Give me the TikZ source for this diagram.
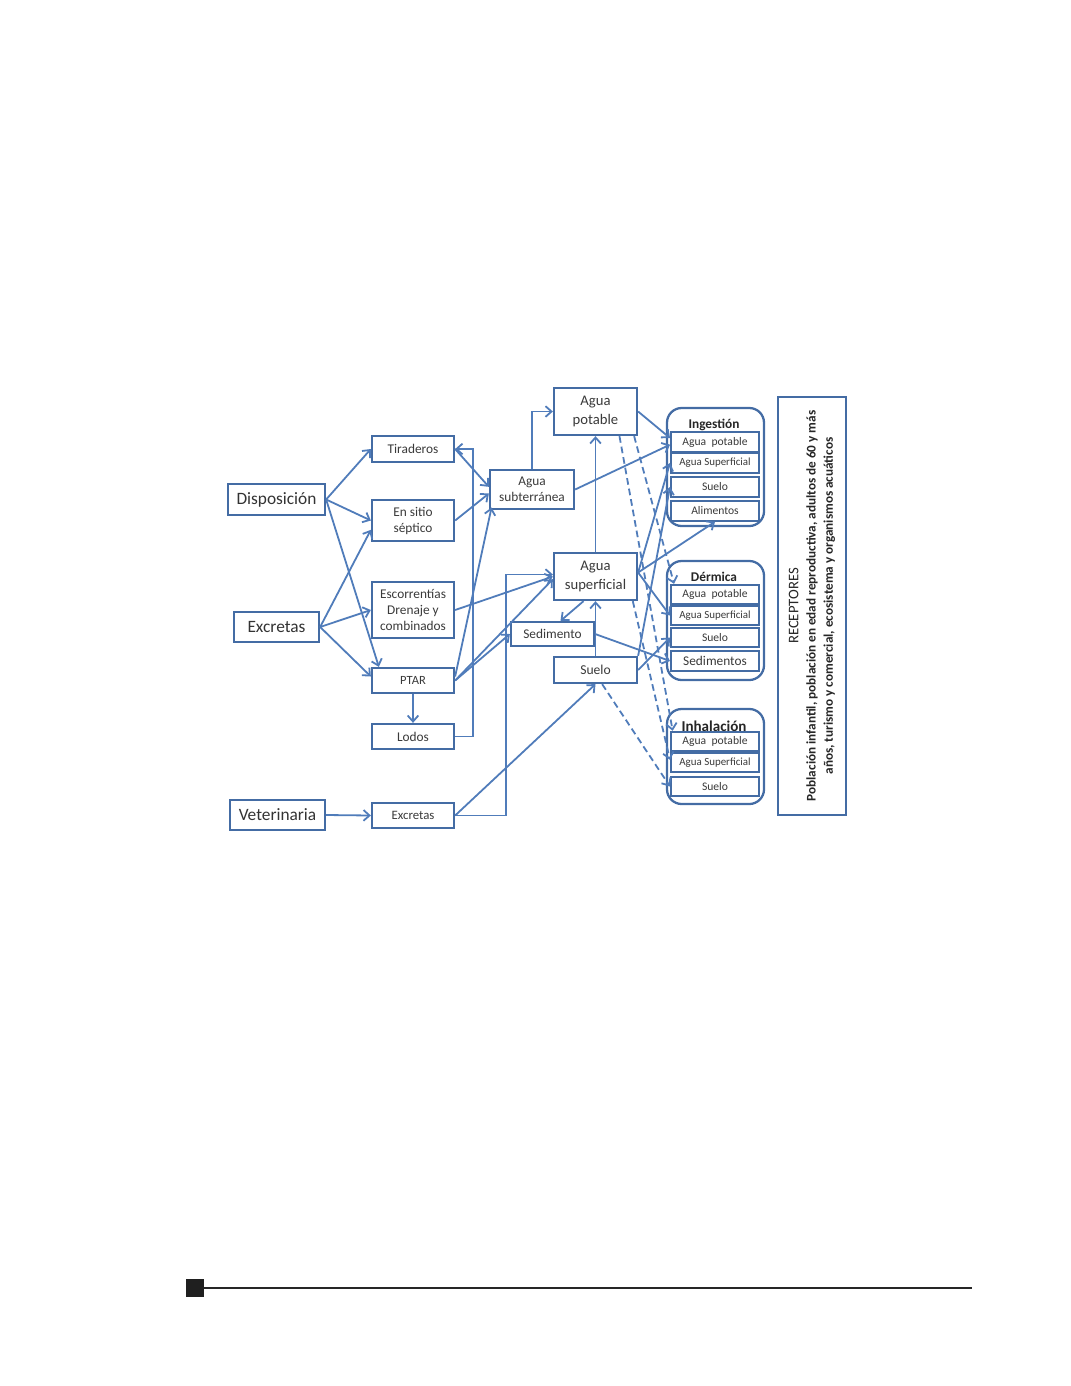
\documentclass[tikz,border=0pt]{standalone}
\usepackage{fontspec}
\setmainfont{Carlito}
\usetikzlibrary{arrows.meta}

\definecolor{boxblue}{RGB}{68,108,164}
\definecolor{lineblue}{RGB}{80,124,186}
\definecolor{txtgray}{RGB}{58,58,58}
\newcommand{\fsz}[2]{\fontsize{#1}{#2}\selectfont}

\begin{document}
\begin{tikzpicture}[x=0.75pt, y=-0.75pt,
  box/.style={draw=boxblue, line width=1.7pt, fill=white, text=txtgray, align=center, inner sep=0pt},
  bigbox/.style={box, text=black!80, font=\fsz{13}{15}},
  midbox/.style={box, minimum width=61.5pt, font=\fsz{10}{12}},
  wbox/.style={box, minimum width=62.25pt, font=\fsz{11}{14.25}},
  subbox/.style={box, line width=1.5pt, minimum width=66pt, minimum height=14.6pt, font=\fsz{8.7}{10}},
  group/.style={draw=boxblue, line width=1.7pt, rounded corners=11pt, minimum width=72.75pt},
  grouptitle/.style={text=black!85, font=\bfseries\fsz{10}{12}},
  link/.style={draw=lineblue, line width=1.35pt, -{Straight Barb[length=4.5pt, width=8pt]}},
  dlink/.style={link, dash pattern=on 5pt off 3pt}]

\useasboundingbox (0,0) rectangle (1071,1386);

% === SOURCES ===
\node[bigbox, minimum width=72.75pt, minimum height=23.25pt] (disp) at (276.5,499.5) {Disposición};
\node[bigbox, minimum width=63.75pt, minimum height=22.5pt] (exc) at (276.5,627) {Excretas};
\node[bigbox, minimum width=71.25pt, minimum height=22.5pt] (vet) at (277.5,815) {Veterinaria};

% === SECOND COLUMN ===
\node[midbox, minimum height=19.5pt] (tir) at (413,449) {Tiraderos};
\node[midbox, minimum height=30.75pt] (sep) at (413,520.5) {En sitio\\séptico};
\node[midbox, minimum height=42pt] (esc) at (413,610) {Escorrentías\\Drenaje y\\combinados};
\node[midbox, minimum height=18.75pt, font=\fsz{9.4}{11}] (ptar) at (413,680.5) {PTAR};
\node[midbox, minimum height=18.75pt] (lod) at (413,736.5) {Lodos};
\node[midbox, minimum height=18.75pt, font=\fsz{9.6}{11}] (exv) at (413,815.5) {Excretas};

% === MEDIA ===
\node[box, minimum width=63pt, minimum height=29.25pt, font=\fsz{10}{12}] (sub) at (532,489.5) {Agua\\subterránea};
\node[wbox, minimum height=35.25pt] (pot) at (595.5,411.5) {Agua\\potable};
\node[wbox, minimum height=35.25pt] (sup) at (595.5,576.5) {Agua\\superficial};
\node[wbox, minimum height=18pt, font=\fsz{10}{12}] (sed) at (552.5,634) {Sedimento};
\node[wbox, minimum height=19.5pt, font=\fsz{10.2}{12}] (sue) at (595.5,670) {Suelo};

% === EXPOSURE ROUTES ===
\node[group, minimum height=88.5pt] (ingG) at (715.5,467) {};
\node[grouptitle] (ingT) at (714,425) {Ingestión};
\node[subbox] (ing1) at (715,442) {Agua~ potable};
\node[subbox, font=\fsz{8.2}{10}] (ing2) at (715,463) {Agua Superficial};
\node[subbox] (ing3) at (715,487) {Suelo};
\node[subbox] (ing4) at (715,511) {Alimentos};

\node[group, minimum height=89.25pt] (derG) at (715.5,620.5) {};
\node[grouptitle] (derT) at (714,577) {Dérmica};
\node[subbox] (der1) at (715,594.5) {Agua~ potable};
\node[subbox, font=\fsz{8.2}{10}] (der2) at (715,615.5) {Agua Superficial};
\node[subbox] (der3) at (715,637.5) {Suelo};
\node[subbox, font=\fsz{10}{12}] (der4) at (715,661) {Sedimentos};

\node[group, minimum height=71.25pt] (inhG) at (715.5,756.5) {};
\node[grouptitle, font=\bfseries\fsz{11.3}{13}] (inhT) at (714,726) {Inhalación};
\node[subbox] (inh1) at (715,741.5) {Agua~ potable};
\node[subbox, font=\fsz{8.2}{10}] (inh2) at (715,762.5) {Agua Superficial};
\node[subbox] (inh3) at (715,786.5) {Suelo};

% === RECEIVERS ===
\node[box, rotate=90, line width=2pt, text=black!85, minimum width=313.5pt, minimum height=51pt,
      font=\bfseries\fsz{9.9}{13}] (rec) at (812,606)
  {{\mdseries\fsz{11}{13}RECEPTORES}\\Población infantil, población en edad reproductiva, adultos de 60 y más\\años, turismo y comercial, ecosistema y organismos acuáticos};

% === CONNECTORS ===
\draw[link] (disp.east) -- (tir.west);
\draw[link] (disp.east) -- (sep.west);
\draw[link] (disp.east) -- ([xshift=6pt]ptar.north west);
\draw[link] (exc.east) -- ([yshift=-7pt]sep.west);
\draw[link] (exc.east) -- (esc.west);
\draw[link] (exc.east) -- ([yshift=3pt]ptar.west);
\draw[link] (ptar.south) -- (lod.north);
\draw[link] (lod.east) -- ++(18,0) |- (tir.east);
\draw[link] (tir.east) -- ([yshift=2pt]sub.west);
\draw[link] (sep.east) -- ([yshift=-3pt]sub.west);
\draw[link] ([yshift=3pt]ptar.east) -- ([xshift=2pt,yshift=2pt]sub.south west);
\draw[link] (esc.east) -- (sup.west);
\draw[link] (ptar.east) -- ([yshift=-2pt]sup.west);
\draw[link] (ptar.east) -- (sed.west);
\draw[link] (vet.east) -- (exv.west);
\draw[link] (exv.east) -- ++(51,0) |- ([yshift=1.5pt]sup.west);
\draw[link] (exv.east) -- (sue.south);
\draw[link] (sub.north) |- (pot.west);
\draw[link] (sub.east) -- ([yshift=-2pt]ing1.west);
\draw[link] (pot.east) -- ([yshift=3pt]ing1.west);
\draw[link] (sup.north) -- (pot.south);
\draw[link] (sue.north) -- (sup.south);
\draw[link] ([xshift=-9pt]sup.south) -- ([xshift=6pt]sed.north);
\draw[link] (sed.east) -- (der4.west);
\draw[link] (sue.east) -- (der3.west);
\draw[link] ([yshift=3pt]sup.east) -- (der2.west);
\draw[link] ([yshift=3pt]sup.east) -- (ing2.west);
\draw[link] ([yshift=3pt]sup.east) -- (ing4.south);
\draw[link] (sue.north east) -- (ing3.west);

% dashed routes
\draw[dlink] ([xshift=-14pt]pot.south east) -- ([xshift=2pt]inh1.north west);
\draw[dlink] ([xshift=-3pt]pot.south east) -- ([xshift=3pt]der1.north west);
\draw[dlink] ([xshift=-4pt]sup.south east) -- ([yshift=2pt]inh2.west);
\draw[dlink] ([xshift=5pt]sue.south) -- (inh3.west);

% === PAGE FOOTER ===
\fill[black!88] (186,1279) rectangle (204,1297);
\draw[black!85, line width=1.1pt] (204,1288) -- (972,1288);

\end{tikzpicture}
\end{document}
